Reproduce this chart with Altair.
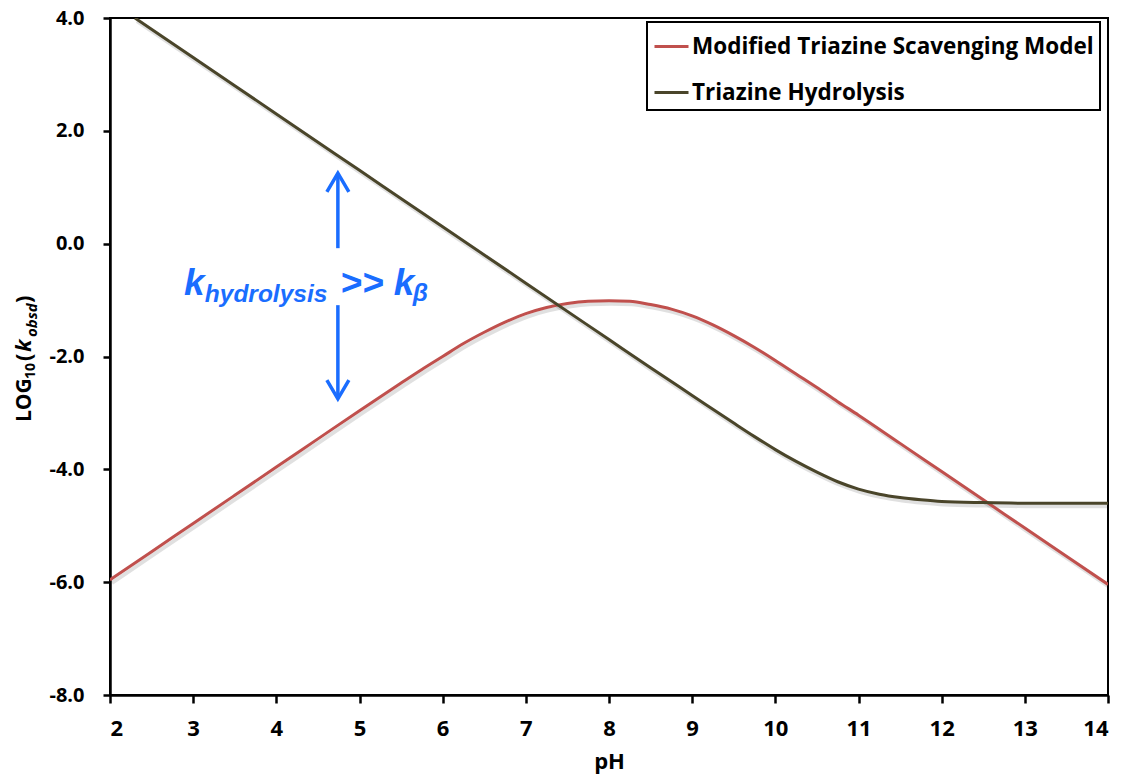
import altair as alt
import pandas as pd

series_names = ["Modified Triazine Scavenging Model", "Triazine Hydrolysis"]
series_colors = ["#C0504D", "#4A452A"]

ph_model = [2.0, 2.5, 3.0, 3.5, 4.0, 4.5, 5.0, 5.5, 5.75, 6.0, 6.25, 6.5, 6.75, 7.0, 7.25, 7.5,
            7.75, 8.0, 8.25, 8.5, 8.75, 9.0, 9.25, 9.5, 9.75, 10.0, 10.25, 10.5, 10.75, 11.0,
            11.5, 12.0, 12.5, 13.0, 13.5, 14.0]
log_model = [-5.96, -5.46, -4.96, -4.46, -3.96, -3.46, -2.96, -2.47, -2.23, -2.00, -1.77, -1.57,
             -1.39, -1.24, -1.13, -1.06, -1.02, -1.01, -1.02, -1.08, -1.16, -1.28, -1.44, -1.63,
             -1.84, -2.07, -2.31, -2.55, -2.80, -3.04, -3.54, -4.04, -4.54, -5.04, -5.54, -6.04]

ph_hyd = [2.3, 3.0, 4.0, 5.0, 6.0, 7.0, 8.0, 8.5, 9.0, 9.5, 9.75, 10.0, 10.25, 10.5, 10.75, 11.0,
          11.25, 11.5, 11.75, 12.0, 12.5, 13.0, 14.0]
log_hyd = [4.00, 3.30, 2.30, 1.30, 0.30, -0.70, -1.70, -2.20, -2.69, -3.18, -3.42, -3.65, -3.86,
           -4.05, -4.22, -4.35, -4.44, -4.50, -4.54, -4.57, -4.59, -4.60, -4.60]

x_ticks = [2, 3, 4, 5, 6, 7, 8, 9, 10, 11, 12, 13, 14]
y_ticks = [-8, -6, -4, -2, 0, 2, 4]

df = pd.concat([
    pd.DataFrame({"pH": ph_model, "logk": log_model, "series": series_names[0]}),
    pd.DataFrame({"pH": ph_hyd, "logk": log_hyd, "series": series_names[1]}),
], ignore_index=True)

AX_FONT = "Open Sans"
BLUE = "#1a6dff"

x_scale = alt.Scale(domain=[2, 14], nice=False, zero=False)
y_scale = alt.Scale(domain=[-8, 4], nice=False, zero=False)
x_axis = alt.Axis(values=x_ticks, title="pH", format="d",
                  labelFontSize=22, labelPadding=15, titleFontSize=22,
                  titlePadding=12, tickSize=8)
y_axis = alt.Axis(values=y_ticks, title=None,
                  labelExpr="replace(format(datum.value, '.1f'), '\u2212', '-')",
                  labelFontSize=20, labelPadding=19, tickSize=7)

x_enc = alt.X("pH:Q", scale=x_scale, axis=x_axis)
y_enc = alt.Y("logk:Q", scale=y_scale, axis=y_axis)


def xd(v):
    return alt.XDatum(v, type="quantitative", scale=x_scale, axis=x_axis)


def yd(v):
    return alt.YDatum(v, type="quantitative", scale=y_scale, axis=y_axis)


shadow = alt.Chart(df).mark_line(
    interpolate="monotone", strokeWidth=4, color="#000000", opacity=0.12,
    xOffset=2, yOffset=3, clip=True
).encode(x=x_enc, y=y_enc, detail="series:N")

lines = alt.Chart(df).mark_line(
    interpolate="monotone", strokeWidth=3, clip=True
).encode(
    x=x_enc, y=y_enc,
    color=alt.Color("series:N",
                    scale=alt.Scale(domain=series_names, range=series_colors),
                    legend=alt.Legend(title=None, orient="none", legendX=537, legendY=4,
                                      fillColor="white", strokeColor="black", padding=6,
                                      symbolType="stroke", symbolSize=1156,
                                      symbolStrokeWidth=3, labelFontSize=22.5,
                                      labelFont=AX_FONT, labelFontWeight="bold",
                                      labelColor="black", labelLimit=0,
                                      labelOffset=2, rowPadding=16)),
)

one = alt.Data(values=[{}])

# arrows (annotation)
ARROW_X = 4.74
rule_up = alt.Chart(one).mark_rule(color=BLUE, strokeWidth=3.5).encode(
    x=xd(ARROW_X), y=yd(1.20), y2=alt.datum(-0.08))
rule_dn = alt.Chart(one).mark_rule(color=BLUE, strokeWidth=3.5).encode(
    x=xd(ARROW_X), y=yd(-1.09), y2=alt.datum(-2.70))
head_up = alt.Chart(one).mark_point(
    shape="M -1 1.7 L 0 0 L 1 1.7", size=484, filled=False, color=BLUE,
    strokeWidth=3.5, strokeJoin="miter", opacity=1
).encode(x=xd(ARROW_X), y=yd(1.25))
head_dn = alt.Chart(one).mark_point(
    shape="M -1 -1.7 L 0 0 L 1 -1.7", size=484, filled=False, color=BLUE,
    strokeWidth=3.5, strokeJoin="miter", opacity=1
).encode(x=xd(ARROW_X), y=yd(-2.75))


def ann_text(txt, xv, yv, size):
    return alt.Chart(one).mark_text(
        text=txt, font="Liberation Sans", fontStyle="italic", fontWeight="bold",
        fontSize=size, color=BLUE, align="left", baseline="alphabetic"
    ).encode(x=xd(xv), y=yd(yv))


t_k1 = ann_text("k", 2.89, -0.91, 37)
t_hyd = ann_text("hydrolysis", 3.14, -1.03, 24.5)
t_gg = ann_text(">> k", 4.77, -0.91, 37)
t_beta = ann_text("\u03b2", 5.64, -1.02, 24.5)


# composed y-axis title: LOG10(k_obsd)
def ytitle(txt, px, py, size, italic=False):
    return alt.Chart(one).mark_text(
        text=txt, font=AX_FONT, fontWeight="bold", fontSize=size,
        fontStyle="italic" if italic else "normal", color="black",
        angle=270, align="left", baseline="alphabetic"
    ).encode(x=alt.value(px), y=alt.value(py))


yt = [
    ytitle("LOG", -79, 404, 21),
    ytitle("10", -75, 361, 14),
    ytitle("(", -79, 343, 22),
    ytitle("k", -79, 334, 22, True),
    ytitle("obsd", -73, 319, 15, True),
    ytitle(")", -79, 285, 22),
]

chart = alt.layer(
    shadow, lines, rule_up, rule_dn, head_up, head_dn, t_k1, t_hyd, t_gg, t_beta, *yt
).properties(
    width=998, height=677,
    autosize=alt.AutoSizeParams(type="none"),
    padding={"left": 102, "top": 10, "right": 6, "bottom": 80},
    background="white",
).configure_view(
    stroke="black", strokeWidth=2
).configure_axis(
    labelFont=AX_FONT, labelFontWeight="bold", labelColor="black",
    titleFont=AX_FONT, titleFontWeight="bold", titleColor="black",
    domainColor="black", domainWidth=2.5, tickColor="black", tickWidth=2.5,
    grid=False
).configure_legend(
    strokeWidth=2
)

chart.save("out.html", embed_options={"renderer": "svg", "actions": False})
